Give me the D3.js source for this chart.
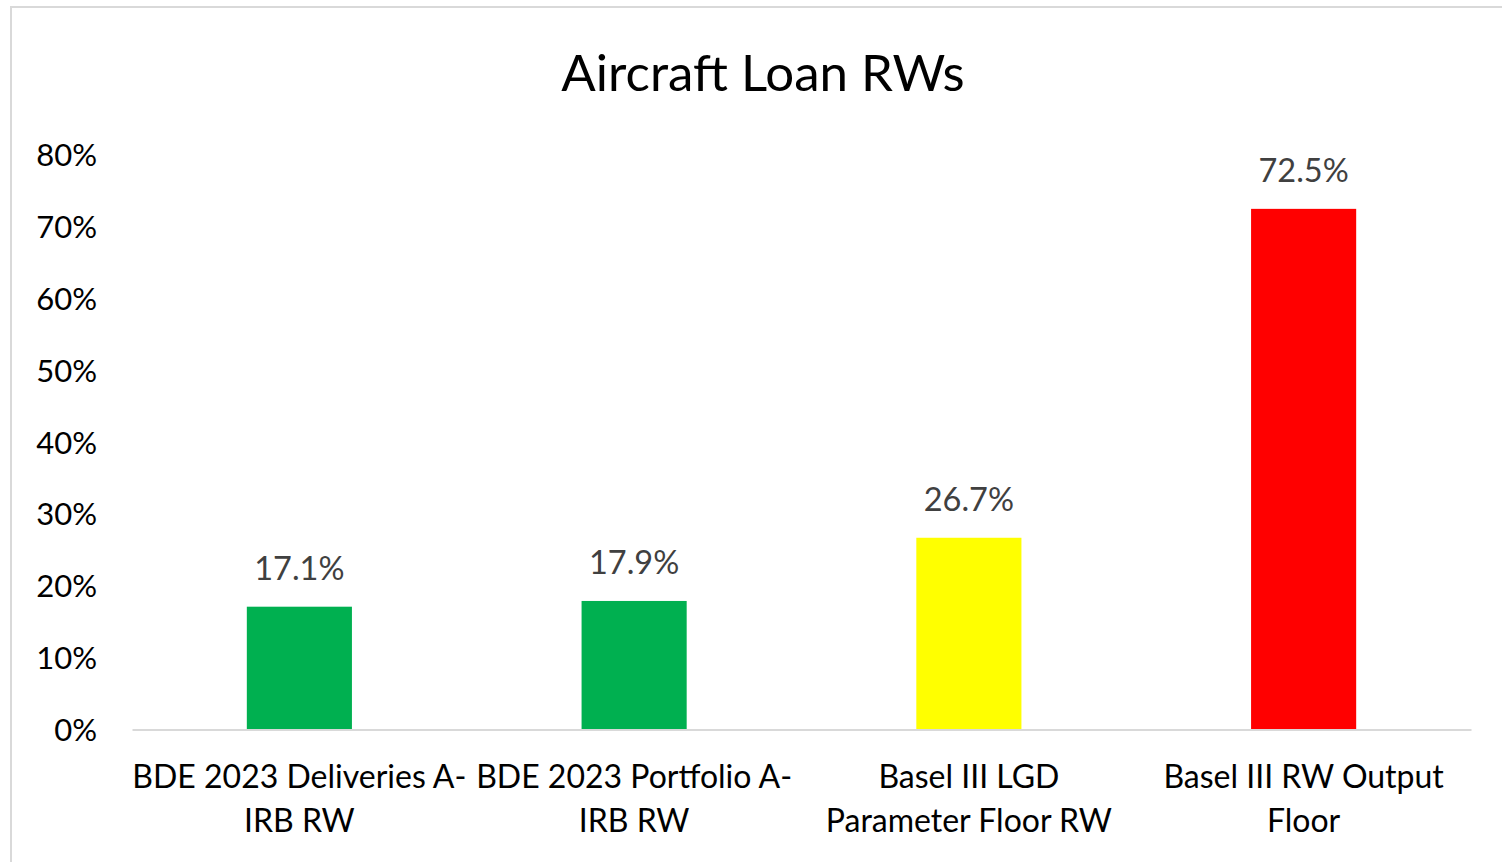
<!DOCTYPE html>
<html><head><meta charset="utf-8">
<script src="https://cdn.jsdelivr.net/npm/d3@7"></script>
<style>body{margin:0;background:#fff}svg{display:block}</style>
</head><body>
<svg id="c" width="1502" height="862"></svg>
<script>
const categories = [["BDE 2023 Deliveries A-","IRB RW"],["BDE 2023 Portfolio A-","IRB RW"],["Basel III LGD","Parameter Floor RW"],["Basel III RW Output","Floor"]];
const values = [0.171, 0.179, 0.267, 0.725];
const colors = ["#00B050","#00B050","#FFFF00","#FF0000"];
const yTicks = [0,0.1,0.2,0.3,0.4,0.5,0.6,0.7,0.8];
const title = "Aircraft Loan RWs";

const font = "Lato, 'Open Sans', sans-serif";
const svg = d3.select("#c");
svg.append("rect").attr("x",11).attr("y",7).attr("width",1502).attr("height",870)
  .attr("fill","#fff").attr("stroke","#d9d9d9").attr("stroke-width",2);

const x = d3.scaleBand().domain(d3.range(values.length)).range([132,1471]).paddingInner(0.686).paddingOuter(0.343);
const y = d3.scaleLinear().domain([0,0.8]).range([729.5,155]);

svg.append("text").attr("x",763).attr("y",91).attr("text-anchor","middle")
  .style("font-family",font).style("font-size","51px").attr("fill","#000").text(title);

const yAxis = d3.axisLeft(y).tickValues(yTicks).tickFormat(d3.format(".0%")).tickSize(0).tickPadding(0);
const ga = svg.append("g").attr("transform","translate(97,0)").call(yAxis);
ga.select(".domain").remove();
ga.selectAll("text").style("font-family",font).style("font-size","31px").attr("fill","#000").attr("dy","0.35em");

svg.selectAll("rect.bar").data(values).join("rect").attr("class","bar")
  .attr("x",(d,i)=>x(i)).attr("width",x.bandwidth())
  .attr("y",d=>y(d)).attr("height",d=>y(0)-y(d)).attr("fill",(d,i)=>colors[i]);

const xAxis = d3.axisBottom(x).tickSize(0).tickFormat("");
const gx = svg.append("g").attr("transform",`translate(0,${y(0)})`).call(xAxis);
gx.select(".domain").attr("stroke","#d9d9d9").attr("stroke-width",2);

svg.selectAll("text.cat").data(categories).join("text").attr("class","cat")
  .attr("text-anchor","middle").style("font-family",font).style("font-size","32px").attr("fill","#000")
  .each(function(d,i){
    const t = d3.select(this);
    d.forEach((line,j)=>t.append("tspan").attr("x",x(i)+x.bandwidth()/2).attr("y",788+j*44).text(line));
  });

svg.selectAll("text.lbl").data(values).join("text").attr("class","lbl")
  .attr("x",(d,i)=>x(i)+x.bandwidth()/2).attr("y",d=>y(d)-27)
  .attr("text-anchor","middle").style("font-family",font).style("font-size","32.5px").attr("fill","#404040")
  .text(d=>d3.format(".1%")(d));
</script>
</body></html>
